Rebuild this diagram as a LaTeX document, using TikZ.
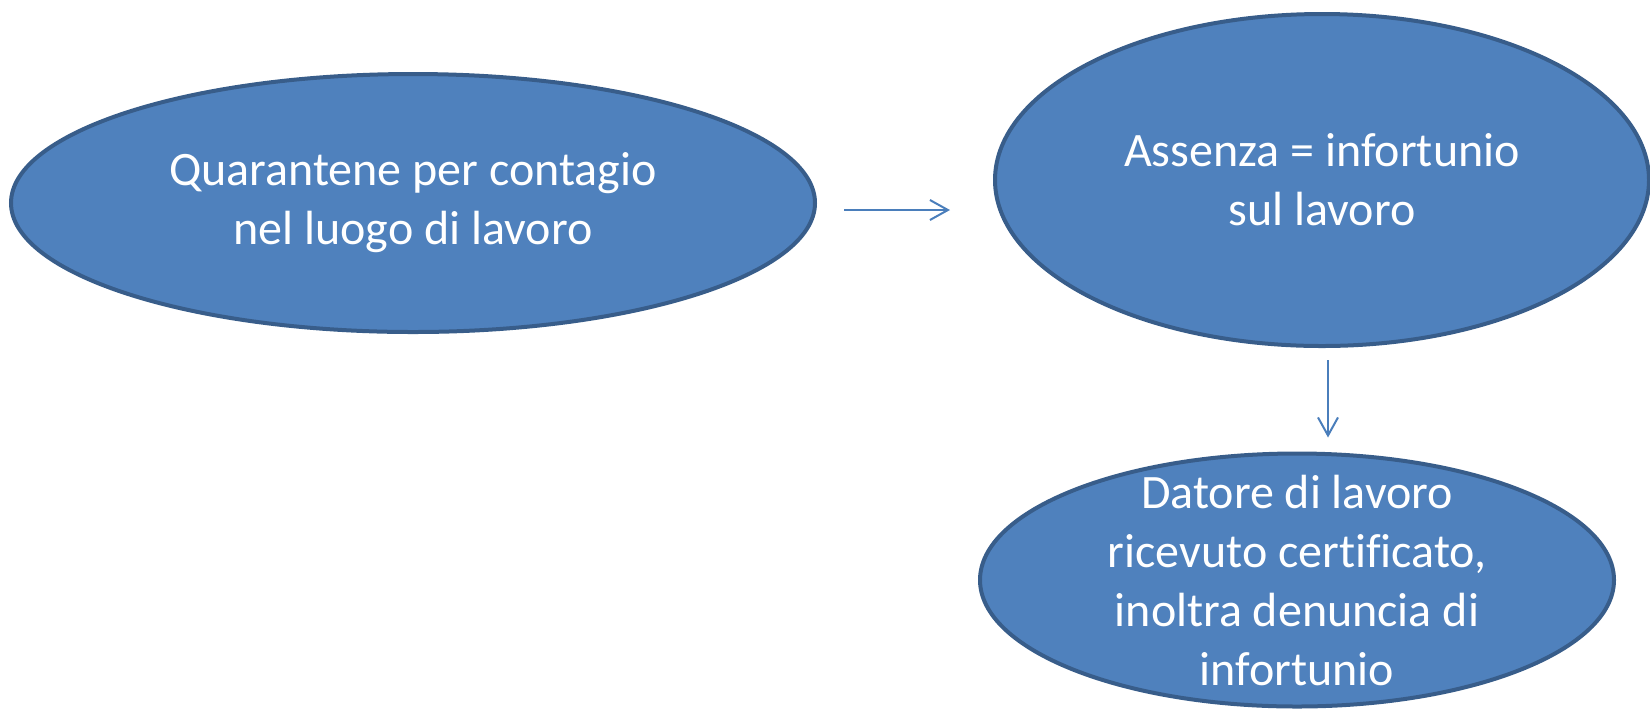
\documentclass[tikz,border=0pt]{standalone}
\usepackage{fontspec}
\setmainfont{Carlito}[Ligatures=CommonOff]
\usetikzlibrary{shapes.geometric,arrows.meta}
\definecolor{bubblefill}{HTML}{4F81BD}
\definecolor{bubbleline}{HTML}{385D8A}
\definecolor{flowline}{HTML}{4A7EBB}
\tikzset{
    bubble/.style={ellipse, draw=bubbleline, fill=bubblefill, line width=2pt,
        inner sep=0mm, text=white, align=center,
        font=\fontsize{24}{29.5}\selectfont}
}
\tikzset{
    flow/.style={draw=flowline, line width=1pt, -{Straight Barb[length=9pt,width=10pt]}}
}

\begin{document}
\begin{tikzpicture}[x=0.5pt, y=-0.5pt]
    \useasboundingbox (0,0) rectangle (1650,709);

    \node (n1) [bubble, minimum width=402pt, minimum height=129pt] at (413,203)
        {Quarantene per contagio\\nel luogo di lavoro};
    \node (n2) [bubble, minimum width=327pt, minimum height=166pt] at (1322,180)
        {Assenza = infortunio\\sul lavoro};
    \node (n3) [bubble, minimum width=317pt, minimum height=126.5pt, inner ysep=-16pt] at (1297,580)
        {Datore di lavoro\\ricevuto certificato,\\inoltra denuncia di\\infortunio};

    \draw[flow, shorten <=13.5pt, shorten >=21.5pt]
        ([yshift=-3.5pt]n1.east) -- ([yshift=-3.5pt]n1.east -| n2.west);
    \draw[flow, shorten <=6pt, shorten >=7pt]
        ([xshift=3pt]n2.south) -- ([xshift=3pt]n2.south |- n3.north);
\end{tikzpicture}
\end{document}
